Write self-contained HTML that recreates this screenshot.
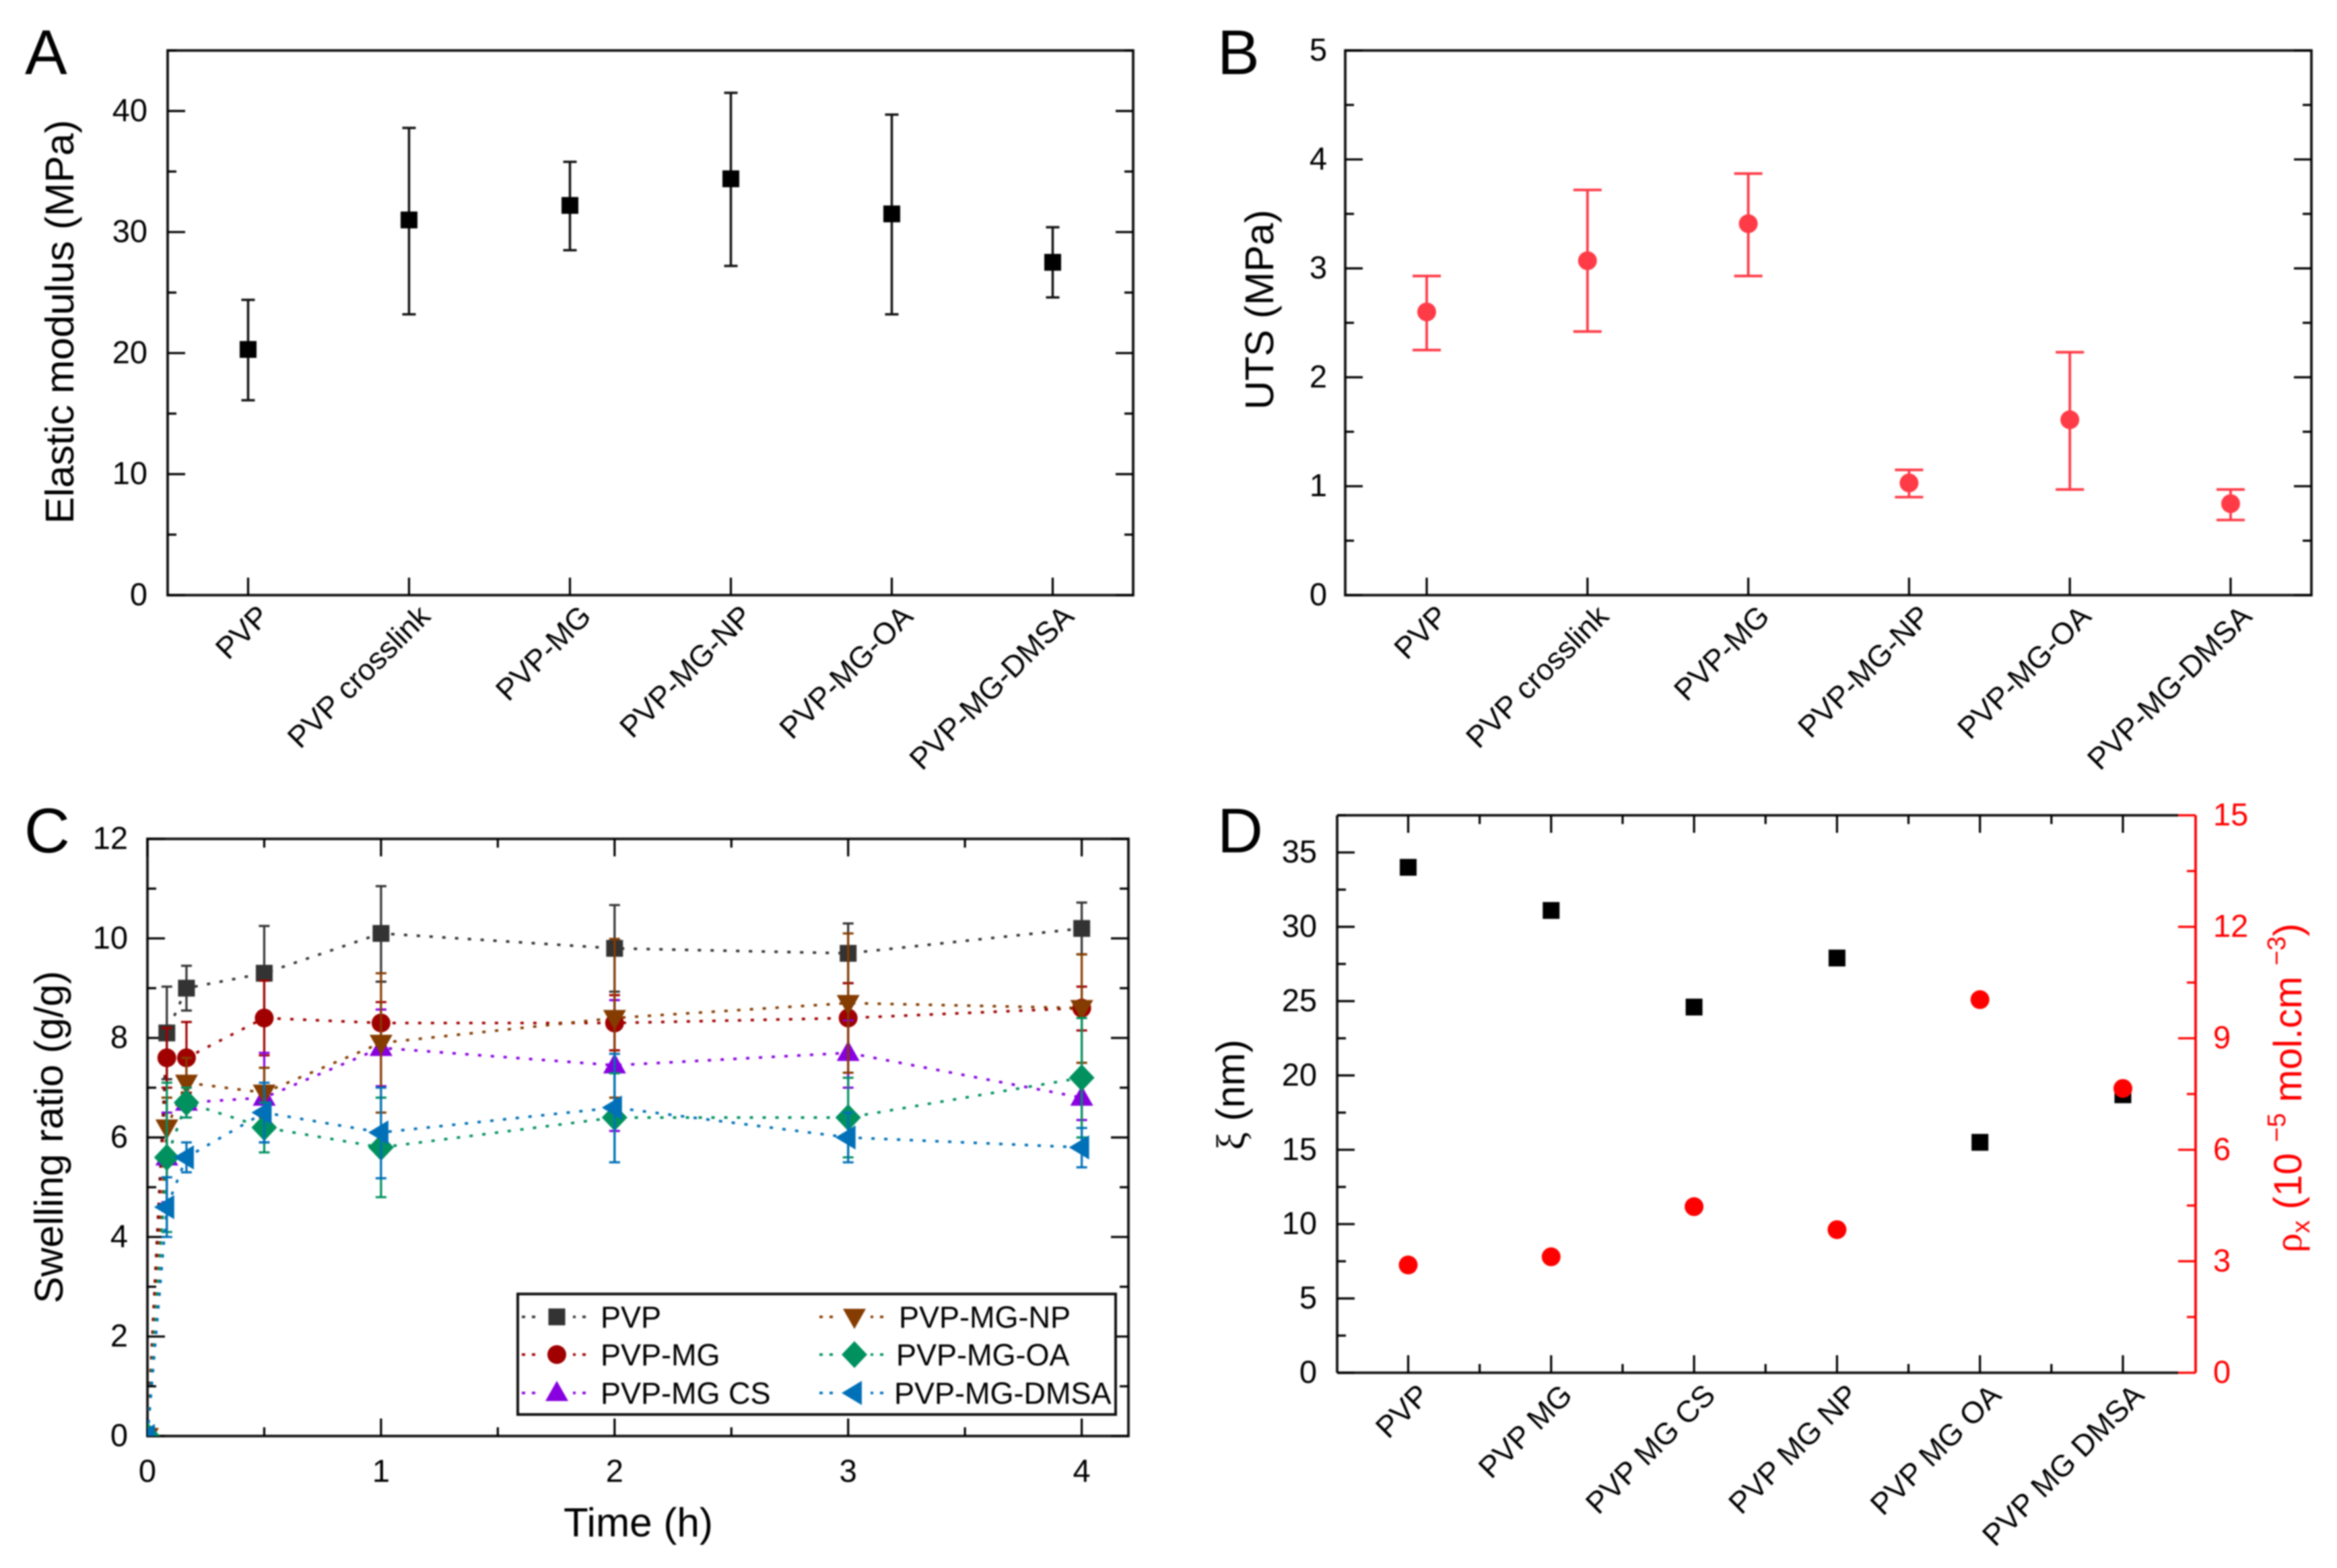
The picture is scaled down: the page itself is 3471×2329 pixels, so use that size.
<!DOCTYPE html>
<html lang="en">
<head>
<meta charset="utf-8">
<title>PVP hydrogel mechanical and swelling properties</title>
<style>
html,body{margin:0;padding:0;background:#fff;width:3471px;height:2329px;overflow:hidden}
svg{display:block;filter:blur(1px)}
text{font-family:"Liberation Sans",sans-serif;fill:#000}
</style>
</head>
<body>
<svg id="figure" xmlns="http://www.w3.org/2000/svg" width="3471" height="2329" viewBox="0 0 3471 2329">
  <rect width="3471" height="2329" fill="#fff"/>

  <g id="panelA">
    <text x="37" y="110" font-size="94">A</text>
    <text transform="translate(109 478) rotate(-90)" text-anchor="middle" font-size="59" textLength="600" lengthAdjust="spacingAndGlyphs">Elastic modulus (MPa)</text>
  </g>

  <g id="panelB">
    <text x="1808" y="110" font-size="94">B</text>
    <text transform="translate(1891 460) rotate(-90)" text-anchor="middle" font-size="59" textLength="297" lengthAdjust="spacingAndGlyphs">UTS (MPa)</text>
  </g>

  <g id="panelC">
    <text x="36" y="1266" font-size="94">C</text>
    <text transform="translate(93 1689) rotate(-90)" text-anchor="middle" font-size="59" textLength="494" lengthAdjust="spacingAndGlyphs">Swelling ratio (g/g)</text>
    <text x="948" y="2282" text-anchor="middle" font-size="60" textLength="222" lengthAdjust="spacingAndGlyphs">Time (h)</text>
  </g>

  <g id="panelD">
    <text x="1808" y="1266" font-size="94">D</text>
    <text transform="translate(1848 1626) rotate(-90)" text-anchor="middle" font-size="59"><tspan font-family="Liberation Serif, serif">ξ</tspan> (nm)</text>
    <text transform="translate(3418 1616) rotate(-90)" text-anchor="middle" font-size="58" style="fill:#f00"><tspan style="fill:#f00" font-family="Liberation Serif, serif">ρ</tspan><tspan style="fill:#f00" font-size="38" dy="12">x</tspan><tspan style="fill:#f00" dy="-12"> (10 </tspan><tspan style="fill:#f00" font-size="38" dy="-24">−5</tspan><tspan style="fill:#f00" dy="24"> mol.cm </tspan><tspan style="fill:#f00" font-size="38" dy="-24">−3</tspan><tspan style="fill:#f00" dy="24">)</tspan></text>
  </g>

  <defs>
    <clipPath id="panelCClip"><rect x="219" y="1246" width="1457" height="887"/></clipPath>
  </defs>
</svg>

<script>
// ---------- Panel A data ----------
const modulusCategories = ['PVP', 'PVP crosslink', 'PVP-MG', 'PVP-MG-NP', 'PVP-MG-OA', 'PVP-MG-DMSA'];
const modulusValues = [20.3, 31, 32.2, 34.4, 31.5, 27.5];
const modulusLower = [16.1, 23.2, 28.5, 27.2, 23.2, 24.6];
const modulusUpper = [24.4, 38.6, 35.8, 41.5, 39.7, 30.4];
const modulusTicks = [0, 10, 20, 30, 40];

// ---------- Panel B data ----------
const utsCategories = ['PVP', 'PVP crosslink', 'PVP-MG', 'PVP-MG-NP', 'PVP-MG-OA', 'PVP-MG-DMSA'];
const utsValues = [2.6, 3.07, 3.41, 1.03, 1.61, 0.84];
const utsLower = [2.25, 2.42, 2.93, 0.9, 0.97, 0.69];
const utsUpper = [2.93, 3.72, 3.87, 1.15, 2.23, 0.97];
const utsTicks = [0, 1, 2, 3, 4, 5];

// ---------- Panel C data ----------
const timeHours = [0, 0.083, 0.167, 0.5, 1, 2, 3, 4];
const timeTicks = [0, 1, 2, 3, 4];
const swellingTicks = [0, 2, 4, 6, 8, 10, 12];
const pvpSwelling = [0, 8.1, 9.0, 9.3, 10.1, 9.8, 9.7, 10.2];
const pvpLower = [0, 7.17, 8.55, 8.35, 9.13, 8.93, 9.1, 9.68];
const pvpUpper = [0, 9.03, 9.45, 10.25, 11.05, 10.67, 10.3, 10.72];
const mgSwelling = [0, 7.6, 7.6, 8.4, 8.3, 8.3, 8.4, 8.6];
const mgLower = [0, 7.0, 6.9, 7.65, 7.88, 7.75, 7.68, 8.15];
const mgUpper = [0, 8.2, 8.32, 9.15, 8.72, 8.86, 9.1, 9.03];
const csSwelling = [0, 5.6, 6.7, 6.8, 7.8, 7.45, 7.7, 6.8];
const csLower = [0, 4.7, 6.4, 5.9, 7.03, 6.13, 7.0, 6.35];
const csUpper = [0, 6.5, 7.0, 7.7, 8.57, 8.76, 8.35, 7.2];
const npSwelling = [0, 6.2, 7.1, 6.9, 7.9, 8.4, 8.7, 8.6];
const npLower = [0, 5.6, 6.6, 6.4, 6.5, 6.8, 7.3, 7.5];
const npUpper = [0, 6.8, 7.6, 7.4, 9.3, 9.99, 10.1, 9.68];
const oaSwelling = [0, 5.6, 6.7, 6.2, 5.8, 6.4, 6.4, 7.2];
const oaLower = [0, 4.1, 6.4, 5.7, 4.8, 5.5, 5.6, 6.0];
const oaUpper = [0, 7.1, 7.0, 6.7, 6.8, 7.29, 7.2, 8.4];
const dmsaSwelling = [0, 4.6, 5.6, 6.5, 6.1, 6.6, 6.0, 5.8];
const dmsaLower = [0, 4.0, 5.3, 5.9, 5.18, 5.5, 5.5, 5.4];
const dmsaUpper = [0, 5.2, 5.9, 7.1, 7.0, 7.68, 6.5, 6.19];

// ---------- Panel D data ----------
const meshCategories = ['PVP', 'PVP MG', 'PVP MG CS', 'PVP MG NP', 'PVP MG OA', 'PVP MG DMSA'];
const meshSizeValues = [34, 31.1, 24.6, 27.9, 15.5, 18.7];
const crosslinkValues = [2.9, 3.12, 4.47, 3.85, 10.04, 7.65];
const meshSizeTicks = [0, 5, 10, 15, 20, 25, 30, 35];
const crosslinkTicks = [0, 3, 6, 9, 12, 15];

// ---------- Helpers ----------
const NS = 'http://www.w3.org/2000/svg';
function add(parent, tag, attrs, text) {
  const el = document.createElementNS(NS, tag);
  for (const k in attrs) el.setAttribute(k, attrs[k]);
  if (text !== undefined) el.textContent = text;
  parent.appendChild(el);
  return el;
}
function linear(d0, d1, r0, r1) {
  return v => r0 + (v - d0) * (r1 - r0) / (d1 - d0);
}
function seg(parent, x1, y1, x2, y2, color, w) {
  return add(parent, 'line', {x1, y1, x2, y2, stroke: color, 'stroke-width': w});
}
function marker(parent, shape, x, y, color) {
  if (shape === 'square') return add(parent, 'rect', {x: x - 12.5, y: y - 12.5, width: 25, height: 25, fill: color});
  if (shape === 'circle') return add(parent, 'circle', {cx: x, cy: y, r: 14, fill: color});
  let pts;
  if (shape === 'up') pts = [[x, y - 18], [x + 17, y + 12], [x - 17, y + 12]];
  if (shape === 'down') pts = [[x, y + 18], [x + 17, y - 12], [x - 17, y - 12]];
  if (shape === 'diamond') pts = [[x, y - 20], [x + 19, y], [x, y + 20], [x - 19, y]];
  if (shape === 'left') pts = [[x - 19, y], [x + 11, y - 18], [x + 11, y + 18]];
  return add(parent, 'polygon', {points: pts.map(p => p.join(',')).join(' '), fill: color});
}

// Draw y ticks (major + minor) on a chosen side, with labels
function drawYAxis(parent, prefix, yScale, ticks, minorStep, xAxis, dir, labelX, anchor, color, maxV) {
  const majorLen = 26, minorLen = 13;
  ticks.forEach(v => {
    const tick = seg(parent, xAxis, yScale(v), xAxis + dir * majorLen, yScale(v), color, 3.2);
    
    
  });
  const step = ticks[1] - ticks[0];
  for (let k = 0; k * step + minorStep <= maxV; k++) {
    const v = k * step + minorStep;
    const minor = seg(parent, xAxis, yScale(v), xAxis + dir * minorLen, yScale(v), color, 3.2);
    
    
  }
  if (labelX !== null) {
    ticks.forEach(v => {
      const label = add(parent, 'text', {x: labelX, y: yScale(v) + 15, 'text-anchor': anchor, 'font-size': 47, style: 'fill:' + color}, String(v));
      
      
    });
  }
}

function drawCategoryLabels(parent, prefix, categories, xOf, yBase) {
  categories.forEach((c, i) => {
    const ax = xOf(i) + 34, ay = yBase - 8;
    const label = add(parent, 'text', {x: ax, y: ay, 'text-anchor': 'end', 'font-size': 45, transform: 'rotate(-45 ' + ax + ' ' + ay + ')'}, c);
    
    
  });
}

function drawFrame(parent, prefix, x0, y0, x1, y1) {
  const frame = add(parent, 'rect', {x: x0, y: y0, width: x1 - x0, height: y1 - y0, fill: 'none', stroke: '#111', 'stroke-width': 3.8});
  
  
}

function drawErrorBar(parent, name, x, yLow, yHigh, capW, color, w) {
  const g = add(parent, 'g', {});
  
  
  seg(g, x, yLow, x, yHigh, color, w);
  seg(g, x - capW / 2, yLow, x + capW / 2, yLow, color, w);
  seg(g, x - capW / 2, yHigh, x + capW / 2, yHigh, color, w);
  return g;
}

// ---------- Panel A ----------
(function () {
  const p = document.getElementById('panelA');
  const L = 249, R = 1683, T = 75, B = 884;
  const y = linear(0, 45, B, T);
  const x = linear(0, 5, 368.5, 1563.5);
  drawFrame(p, 'panel-a', L, T, R, B);
  drawYAxis(p, 'panel-a-left-y', y, modulusTicks, 5, L, 1, 219, 'end', '#000', 45);
  drawYAxis(p, 'panel-a-right-y', y, modulusTicks, 5, R, -1, null, 'end', '#000', 45);
  modulusCategories.forEach((c, i) => {
    const tick = seg(p, x(i), B, x(i), B - 26, '#000', 3.2);
    
    
    drawErrorBar(p, 'panel-a-error-bar', x(i), y(modulusLower[i]), y(modulusUpper[i]), 20, '#111', 3.5);
    const m = marker(p, 'square', x(i), y(modulusValues[i]), '#000');
    
    
  });
  drawCategoryLabels(p, 'panel-a', modulusCategories, x, 926);
})();

// ---------- Panel B ----------
(function () {
  const p = document.getElementById('panelB');
  const L = 1998, R = 3433, T = 75, B = 884;
  const red = '#ff3b47';
  const y = linear(0, 5, B, T);
  const x = linear(0, 5, 2119, 3313);
  drawFrame(p, 'panel-b', L, T, R, B);
  drawYAxis(p, 'panel-b-left-y', y, utsTicks, 0.5, L, 1, 1971, 'end', '#000', 5);
  drawYAxis(p, 'panel-b-right-y', y, utsTicks, 0.5, R, -1, null, 'end', '#000', 5);
  utsCategories.forEach((c, i) => {
    const tick = seg(p, x(i), B, x(i), B - 26, '#000', 3.2);
    
    
    drawErrorBar(p, 'panel-b-error-bar', x(i), y(utsLower[i]), y(utsUpper[i]), 42, red, 3.8);
    const m = marker(p, 'circle', x(i), y(utsValues[i]), red);
    
    
  });
  drawCategoryLabels(p, 'panel-b', utsCategories, x, 926);
})();

// ---------- Panel C ----------
const swellingSeries = [
  {label: 'PVP', values: pvpSwelling, lower: pvpLower, upper: pvpUpper, color: '#333333', shape: 'square'},
  {label: 'PVP-MG', values: mgSwelling, lower: mgLower, upper: mgUpper, color: '#a00000', shape: 'circle'},
  {label: 'PVP-MG CS', values: csSwelling, lower: csLower, upper: csUpper, color: '#8800e0', shape: 'up'},
  {label: 'PVP-MG-NP', values: npSwelling, lower: npLower, upper: npUpper, color: '#853c00', shape: 'down'},
  {label: 'PVP-MG-OA', values: oaSwelling, lower: oaLower, upper: oaUpper, color: '#00915f', shape: 'diamond'},
  {label: 'PVP-MG-DMSA', values: dmsaSwelling, lower: dmsaLower, upper: dmsaUpper, color: '#0070b8', shape: 'left'}
];
(function () {
  const p = document.getElementById('panelC');
  const L = 219, R = 1676, T = 1246, B = 2133;
  const y = linear(0, 12, B, T);
  const x = linear(0, 4.2, L, R);
  drawFrame(p, 'panel-c', L, T, R, B);
  drawYAxis(p, 'panel-c-left-y', y, swellingTicks, 1, L, 1, 190, 'end', '#000', 12);
  drawYAxis(p, 'panel-c-right-y', y, swellingTicks, 1, R, -1, null, 'end', '#000', 12);
  timeTicks.forEach(t => {
    [B, T].forEach(edge => {
      const dir = edge === B ? -1 : 1;
      const major = seg(p, x(t), edge, x(t), edge + dir * 26, '#000', 3.2);
      
      
      if (t < 4) {
        const minor = seg(p, x(t + 0.5), edge, x(t + 0.5), edge + dir * 13, '#000', 3.2);
        
        
      }
    });
    const label = add(p, 'text', {x: x(t), y: 2201, 'text-anchor': 'middle', 'font-size': 47}, String(t));
    
    
  });

  const plot = add(p, 'g', {'clip-path': 'url(#panelCClip)'});
  
  
  swellingSeries.forEach(s => {
    const slug = s.label.toLowerCase().replace(/ /g, '-');
    const g = add(plot, 'g', {});
    
    
    const path = add(g, 'polyline', {
      points: timeHours.map((t, i) => x(t) + ',' + y(s.values[i])).join(' '),
      fill: 'none', stroke: s.color, 'stroke-width': 3.8, 'stroke-dasharray': '5 14'
    });
    
    
    timeHours.forEach((t, i) => {
      const m = marker(g, s.shape, x(t), y(s.values[i]), s.color);
      
      
      if (s.upper[i] !== s.lower[i]) {
        drawErrorBar(g, 'error-bar-' + slug, x(t), y(s.lower[i]), y(s.upper[i]), 16, s.color, 3.2);
      }
    });
  });

  // Legend
  const legend = add(p, 'g', {});
  
  
  const box = add(legend, 'rect', {x: 769, y: 1922, width: 888, height: 179, fill: '#fff', stroke: '#111', 'stroke-width': 4});
  
  
  const rowsY = [1956, 2012, 2069];
  const textX = [892, 892, 892, 1335, 1331, 1328];
  swellingSeries.forEach((s, i) => {
    const col = i < 3 ? 0 : 1;
    const cy = rowsY[i % 3];
    const cx = col === 0 ? 827 : 1269;
    const entry = add(legend, 'g', {});
    
    
    add(entry, 'line', {x1: cx - 52, y1: cy, x2: cx + 52, y2: cy, stroke: s.color, 'stroke-width': 3.8, 'stroke-dasharray': '5 10'});
    add(entry, 'rect', {x: cx - 24, y: cy - 14, width: 48, height: 28, fill: '#fff'});
    marker(entry, s.shape, cx, cy, s.color);
    add(entry, 'text', {x: textX[i], y: cy + 16, 'font-size': 45}, s.label);
  });
})();

// ---------- Panel D ----------
(function () {
  const p = document.getElementById('panelD');
  const L = 1986, R = 3261, T = 1211, B = 2039;
  const y = linear(0, 37.5, B, T);
  const yR = linear(0, 15, B, T);
  const x = linear(0, 5, 2091.5, 3153);
  const spine = [[L, T, L, B], [L, T, R - 26, T], [L, B, R - 26, B]];
  spine.forEach(s => {
    const e = seg(p, s[0], s[1], s[2], s[3], '#111', 3.8);
    
    
  });
  const rightSpine = seg(p, R, T, R, B, '#f00', 3.8);
  
  
  drawYAxis(p, 'panel-d-left-y', y, meshSizeTicks, 2.5, L, 1, 1956, 'end', '#000', 37.5);
  drawYAxis(p, 'panel-d-right-y', yR, crosslinkTicks, 1.5, R, -1, 3287, 'start', '#f00', 15);
  meshCategories.forEach((c, i) => {
    [[B, -1], [T, 1]].forEach(e => {
      const major = seg(p, x(i), e[0], x(i), e[0] + e[1] * 26, '#000', 3.2);
      
      
      const minorX = x(i + 0.5);
      if (minorX < R - 30) {
        const minor = seg(p, minorX, e[0], minorX, e[0] + e[1] * 13, '#000', 3.2);
        
        
      }
    });
    const sq = marker(p, 'square', x(i), y(meshSizeValues[i]), '#000');
    
    
  });
  meshCategories.forEach((c, i) => {
    const dot = marker(p, 'circle', x(i), yR(crosslinkValues[i]), '#f00');
    
    
  });
  drawCategoryLabels(p, 'panel-d', meshCategories, x, 2083);
})();
</script>
</body>
</html>
